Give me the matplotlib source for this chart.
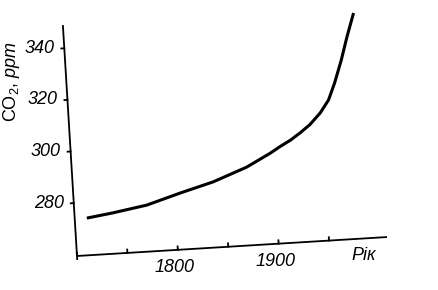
import matplotlib
matplotlib.use("Agg")
import matplotlib.pyplot as plt
import numpy as np
from matplotlib.transforms import Affine2D, offset_copy

years = [1712, 1738, 1772, 1806, 1839, 1873, 1897, 1907, 1918, 1928, 1938,
         1949, 1958, 1965, 1973, 1980, 1988]
co2 = [273.9, 275.3, 277.5, 281.4, 284.9, 289.8, 294.6, 296.9, 299.2, 301.8, 304.7,
       309.0, 313.8, 320.2, 328.9, 337.7, 346.8]

x_ticks = [1700, 1750, 1800, 1850, 1900, 1950]
x_labels = {1800: "1800", 1900: "1900"}
y_ticks = [280, 300, 320, 340]
xlim = (1700, 2007.5)
ylim = (259.5, 349.0)

plt.rcParams["font.family"] = ["Liberation Sans", "DejaVu Sans"]
plt.rcParams["mathtext.fontset"] = "custom"
plt.rcParams["mathtext.rm"] = "Liberation Sans"
plt.rcParams["mathtext.it"] = "Liberation Sans:italic"

fig = plt.figure(figsize=(4.38, 2.90), dpi=100)
ax = fig.add_axes([0, 0, 1, 1])
ax.set_xlim(0, 438)
ax.set_ylim(0, 290)
ax.axis("off")

# skewed "hand drawn" frame: data -> pixels, rotated a few degrees about the origin
T = (Affine2D().translate(-xlim[0], -ylim[0]).scale(1.01, 2.585)
     .rotate_deg(3.5).translate(77, 34) + ax.transData)

lw_ax = 1.3
ax.plot(xlim, [ylim[0], ylim[0]], color="black", lw=lw_ax, transform=T, solid_capstyle="butt")
ax.plot([xlim[0], xlim[0]], ylim, color="black", lw=lw_ax, transform=T, solid_capstyle="butt")

for xt in x_ticks:
    lo = ylim[0] - (1.2 if xt == xlim[0] else 0)
    ax.plot([xt, xt], [lo, ylim[0] + 1.3], color="black", lw=lw_ax, transform=T)
    if xt in x_labels:
        tr = offset_copy(T, fig=fig, x=-3, y=-18, units="dots")
        ax.text(xt, ylim[0], x_labels[xt], transform=tr, ha="center", va="center",
                fontsize=13, style="italic")

for yt in y_ticks:
    ax.plot([xlim[0] - 3, xlim[0]], [yt, yt], color="black", lw=lw_ax, transform=T)
    tr = offset_copy(T, fig=fig, x=-10, y=0, units="dots")
    ax.text(xlim[0], yt, str(yt), transform=tr, ha="right", va="center",
            fontsize=13, style="italic")

ax.plot(years, co2, color="black", lw=2.2, transform=T,
        solid_capstyle="butt", solid_joinstyle="round")

ax.text(12, 208, r"CO$_2$, $\it{ppm}$", rotation=90, ha="center", va="center", fontsize=13)
ax.text(364, 34, "Рік", ha="center", va="center", fontsize=13, style="italic")

fig.savefig("out.png", dpi=100)
